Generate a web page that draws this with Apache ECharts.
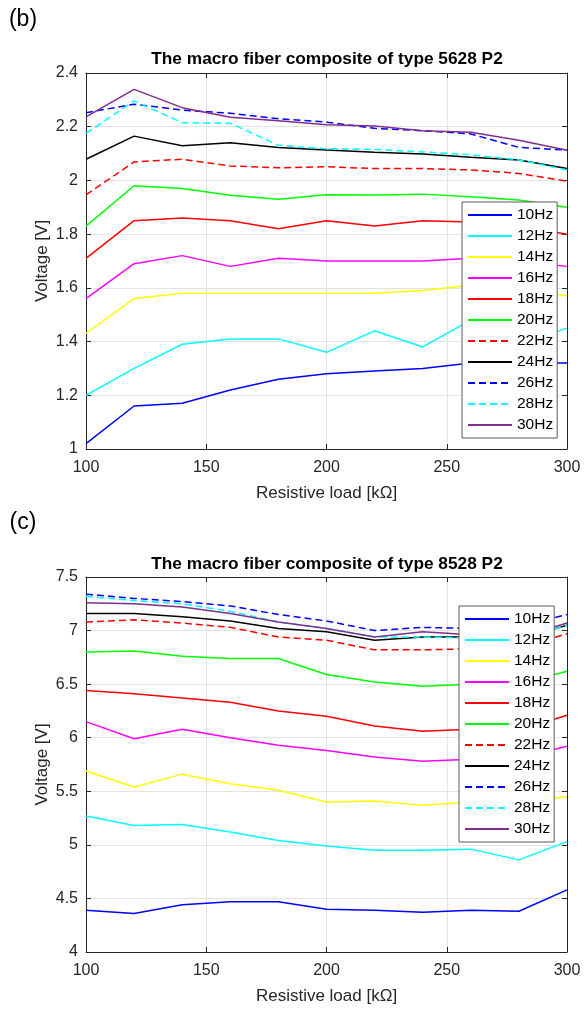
<!DOCTYPE html>
<html>
<head>
<meta charset="utf-8">
<title>Macro fiber composite - voltage vs resistive load</title>
<script src="https://cdn.jsdelivr.net/npm/echarts@6/dist/echarts.min.js"></script>
<style>
    html, body { margin: 0; padding: 0; background: #fff; }
    #main { width: 584px; height: 1012px; }
</style>
</head>
<body>
<div id="main"></div>
<script>
    // resistive load [kOhm], same for both panels
    var loads = [100, 120, 140, 160, 180, 200, 220, 240, 260, 280, 300]
    var freqs = ['10Hz', '12Hz', '14Hz', '16Hz', '18Hz', '20Hz', '22Hz', '24Hz', '26Hz', '28Hz', '30Hz']

    // (b) type 5628 P2, voltage [V]
    var b10 = [1.02, 1.16, 1.17, 1.22, 1.26, 1.28, 1.29, 1.30, 1.32, 1.32, 1.32]
    var b12 = [1.20, 1.30, 1.39, 1.41, 1.41, 1.36, 1.44, 1.38, 1.48, 1.39, 1.45]
    var b14 = [1.43, 1.56, 1.58, 1.58, 1.58, 1.58, 1.58, 1.59, 1.61, 1.60, 1.57]
    var b16 = [1.56, 1.69, 1.72, 1.68, 1.71, 1.70, 1.70, 1.70, 1.71, 1.70, 1.68]
    var b18 = [1.71, 1.85, 1.86, 1.85, 1.82, 1.85, 1.83, 1.85, 1.845, 1.83, 1.80]
    var b20 = [1.83, 1.98, 1.97, 1.945, 1.93, 1.947, 1.946, 1.949, 1.939, 1.927, 1.90]
    var b22 = [1.946, 2.069, 2.079, 2.054, 2.047, 2.051, 2.044, 2.044, 2.039, 2.026, 1.997]
    var b24 = [2.079, 2.165, 2.129, 2.140, 2.123, 2.113, 2.105, 2.098, 2.086, 2.076, 2.044]
    var b26 = [2.252, 2.284, 2.262, 2.250, 2.230, 2.217, 2.194, 2.185, 2.173, 2.123, 2.113]
    var b28 = [2.175, 2.296, 2.215, 2.213, 2.131, 2.118, 2.116, 2.106, 2.096, 2.076, 2.039]
    var b30 = [2.237, 2.339, 2.271, 2.235, 2.222, 2.207, 2.203, 2.185, 2.179, 2.150, 2.112]

    // (c) type 8528 P2, voltage [V]
    var c10 = [4.39, 4.36, 4.44, 4.47, 4.47, 4.40, 4.39, 4.37, 4.39, 4.38, 4.58]
    var c12 = [5.27, 5.18, 5.19, 5.12, 5.04, 4.99, 4.95, 4.95, 4.96, 4.86, 5.03]
    var c14 = [5.69, 5.54, 5.66, 5.57, 5.51, 5.40, 5.41, 5.37, 5.40, 5.40, 5.45]
    var c16 = [6.15, 5.99, 6.08, 6.00, 5.93, 5.88, 5.82, 5.78, 5.80, 5.81, 5.92]
    var c18 = [6.44, 6.41, 6.37, 6.33, 6.25, 6.20, 6.11, 6.06, 6.08, 6.07, 6.21]
    var c20 = [6.80, 6.81, 6.76, 6.74, 6.74, 6.59, 6.52, 6.48, 6.50, 6.50, 6.62]
    var c22 = [7.08, 7.10, 7.07, 7.03, 6.94, 6.91, 6.82, 6.82, 6.83, 6.84, 6.97]
    var c24 = [7.16, 7.16, 7.13, 7.09, 7.02, 6.99, 6.91, 6.94, 6.94, 6.92, 7.05]
    var c26 = [7.34, 7.30, 7.27, 7.23, 7.15, 7.09, 7.00, 7.03, 7.02, 7.04, 7.15]
    var c28 = [7.32, 7.28, 7.25, 7.18, 7.08, 7.02, 6.94, 6.94, 6.93, 6.92, 7.05]
    var c30 = [7.26, 7.25, 7.22, 7.16, 7.08, 7.02, 6.94, 6.99, 6.96, 6.93, 7.07]

    var panelB = [b10, b12, b14, b16, b18, b20, b22, b24, b26, b28, b30]
    var panelC = [c10, c12, c14, c16, c18, c20, c22, c24, c26, c28, c30]

    var colors = ['#0000ff', '#00ffff', '#ffff00', '#ff00ff', '#ff0000', '#00ff00',
        '#ff0000', '#000000', '#0000ff', '#00ffff', '#7e2f8e']
    var dash = [7, 4]
    var lineTypes = ['solid', 'solid', 'solid', 'solid', 'solid', 'solid',
        dash, 'solid', dash, dash, 'solid']

    var FONT = 'Liberation Sans, Arial, sans-serif'
    var AXIS_COLOR = '#262626'

    function xAxes(grid) {
        return [{
            type: 'value', gridIndex: grid, position: 'bottom',
            min: 100, max: 300, interval: 50,
            name: 'Resistive load [kΩ]', nameLocation: 'middle', nameGap: 36,
            nameTextStyle: { fontFamily: FONT, fontSize: 17, color: AXIS_COLOR },
            axisLine: { onZero: false, lineStyle: { color: AXIS_COLOR, width: 1 } },
            axisTick: { inside: true, length: 5, lineStyle: { color: AXIS_COLOR } },
            axisLabel: { margin: 11, fontFamily: FONT, fontSize: 16, color: AXIS_COLOR },
            splitLine: { show: true, lineStyle: { color: '#e3e3e3', width: 1 } }
        }, {
            type: 'value', gridIndex: grid, position: 'top',
            min: 100, max: 300, interval: 50,
            axisLine: { onZero: false, lineStyle: { color: AXIS_COLOR, width: 1 } },
            axisTick: { inside: true, length: 5, lineStyle: { color: AXIS_COLOR } },
            axisLabel: { show: false },
            splitLine: { show: false }
        }]
    }

    function yAxes(grid, min, max, step) {
        return [{
            type: 'value', gridIndex: grid, position: 'left',
            min: min, max: max, interval: step,
            name: 'Voltage [V]', nameLocation: 'middle', nameGap: 35, nameRotate: 90,
            nameMoveOverlap: false,
            nameTextStyle: { fontFamily: FONT, fontSize: 17, color: AXIS_COLOR },
            axisLine: { show: true, onZero: false, lineStyle: { color: AXIS_COLOR, width: 1 } },
            axisTick: { show: true, inside: true, length: 5, lineStyle: { color: AXIS_COLOR } },
            axisLabel: {
                margin: 8, fontFamily: FONT, fontSize: 16, color: AXIS_COLOR,
                formatter: function (v) { return String(Math.round(v * 10) / 10) }
            },
            splitLine: { show: true, lineStyle: { color: '#e3e3e3', width: 1 } }
        }, {
            type: 'value', gridIndex: grid, position: 'right',
            min: min, max: max, interval: step,
            axisLine: { show: true, onZero: false, lineStyle: { color: AXIS_COLOR, width: 1 } },
            axisTick: { show: true, inside: true, length: 5, lineStyle: { color: AXIS_COLOR } },
            axisLabel: { show: false },
            splitLine: { show: false }
        }]
    }

    function panelSeries(values, axisIndex) {
        return values.map(function (vals, i) {
            return {
                name: freqs[i],
                type: 'line',
                xAxisIndex: axisIndex,
                yAxisIndex: axisIndex,
                data: loads.map(function (x, k) { return [x, vals[k]] }),
                symbol: 'circle',
                showSymbol: false,
                silent: true,
                lineStyle: { color: colors[i], width: 1.5, type: lineTypes[i] },
                itemStyle: { color: colors[i] }
            }
        })
    }

    function legendAt(left, top) {
        return {
            orient: 'vertical', left: left, top: top,
            data: freqs, selectedMode: false,
            itemWidth: 44, itemHeight: 14, itemGap: 5,
            padding: [5, 4, 5, 5],
            backgroundColor: '#ffffff',
            borderColor: '#5a5a5a', borderWidth: 1,
            // only the line sample, no marker in the middle
            itemStyle: { opacity: 0 },
            textStyle: { fontFamily: FONT, fontSize: 15.5, color: '#000' }
        }
    }

    function label(text, x, y, font) {
        return {
            type: 'text', x: x, y: y, z: 10,
            style: { text: text, font: font, fill: '#000',
                align: 'center', verticalAlign: 'middle',
                textAlign: 'center', textVerticalAlign: 'middle' }
        }
    }

    var chart = echarts.init(document.getElementById('main'), null, { renderer: 'canvas' })
    chart.setOption({
        animation: false,
        backgroundColor: '#ffffff',
        grid: [
            { left: 86, top: 73, width: 481, height: 376 },
            { left: 86, top: 577, width: 481, height: 375 }
        ],
        xAxis: xAxes(0).concat(xAxes(1)),
        yAxis: yAxes(0, 1, 2.4, 0.2).concat(yAxes(1, 4, 7.5, 0.5)),
        legend: [legendAt(462, 202), legendAt(459, 606)],
        graphic: [
            label('(b)', 23, 20, '23px "Liberation Sans Narrow", "Arial Narrow", sans-serif'),
            label('(c)', 23, 523, '23px "Liberation Sans Narrow", "Arial Narrow", sans-serif'),
            label('The macro fiber composite of type 5628 P2', 327, 59, 'bold 17.3px ' + FONT),
            label('The macro fiber composite of type 8528 P2', 327, 564, 'bold 17.3px ' + FONT)
        ],
        series: panelSeries(panelB, 0).concat(panelSeries(panelC, 2))
    })
</script>
</body>
</html>
